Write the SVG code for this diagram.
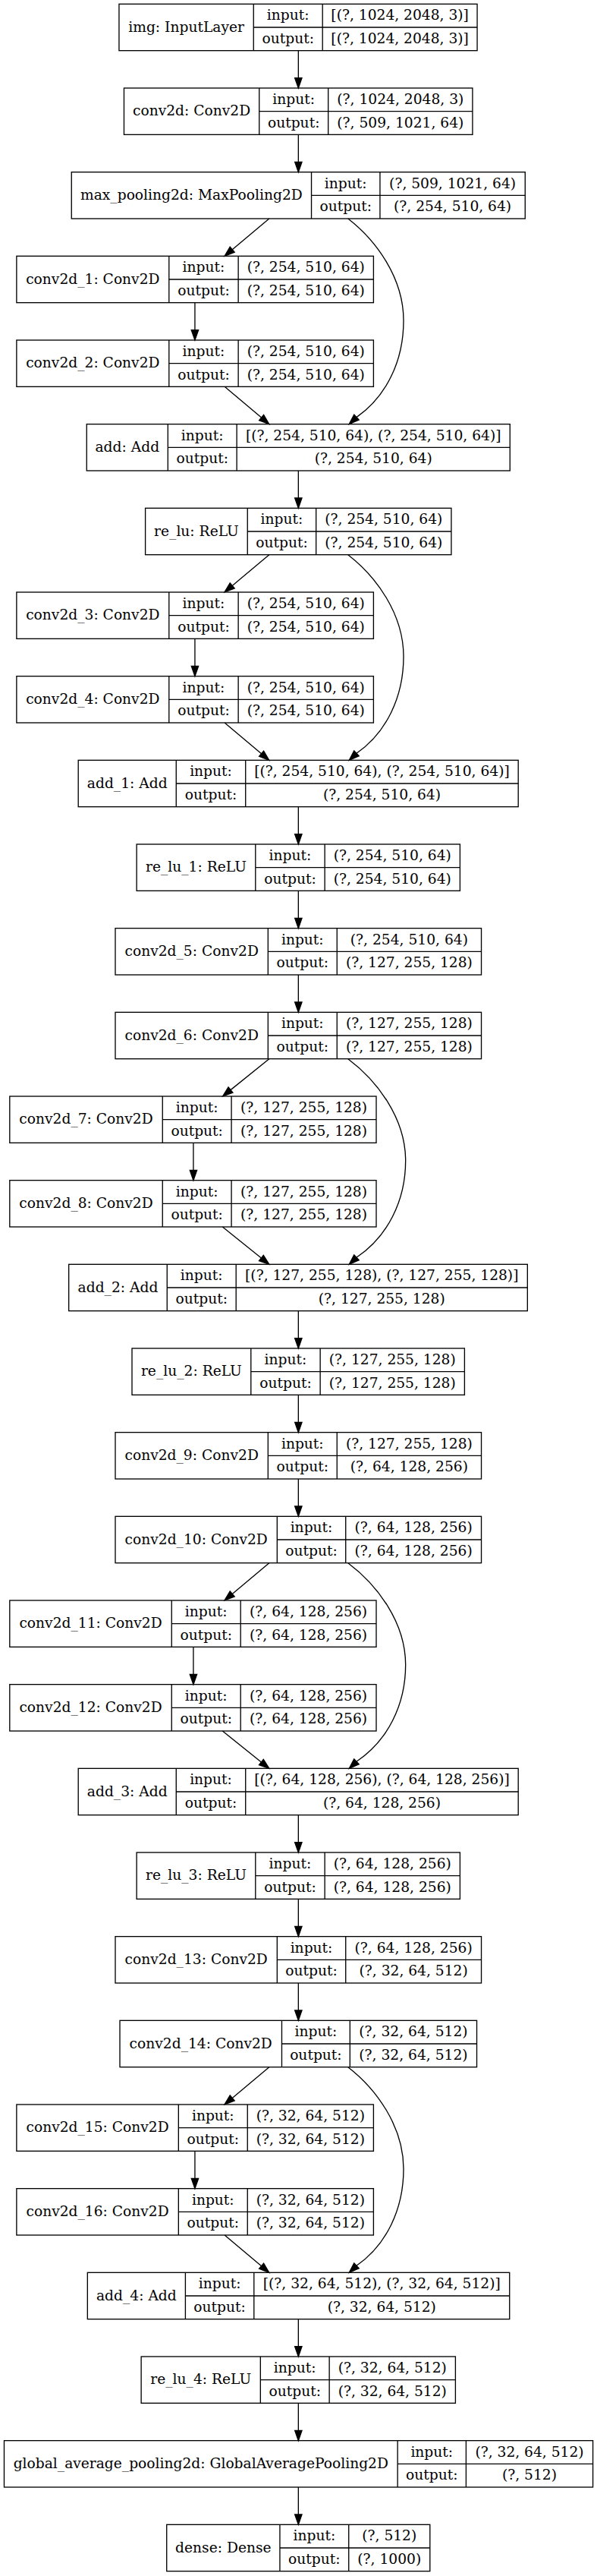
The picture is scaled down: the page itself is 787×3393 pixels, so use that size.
<svg xmlns="http://www.w3.org/2000/svg" width="787" height="3393" viewBox="0 0 787 3393">
<style>
.n rect{fill:#fff;stroke:#000;stroke-width:1}
.n path{fill:none;stroke:#000;stroke-width:1}
text{font-family:"DejaVu Serif","Liberation Serif",serif;font-size:14px;text-anchor:middle;fill:#000}
.e path{fill:none;stroke:#000;stroke-width:1}
.e polygon{fill:#000;stroke:#000;stroke-width:1}
</style>
<rect width="787" height="3393" fill="#fff"/>
<g transform="scale(1.33333)">
<g id="img" class="n"><rect x="117.7" y="4" width="354.1" height="46"/><path d="M250.7 4V50M318.9 4V50M250.7 27H471.8"/><text x="184.2" y="31.2">img: InputLayer</text><text x="284.8" y="19.7">input:</text><text x="284.8" y="42.7">output:</text><text x="395.35" y="19.7">[(?, 1024, 2048, 3)]</text><text x="395.35" y="42.7">[(?, 1024, 2048, 3)]</text></g>
<g id="conv2d" class="n"><rect x="122.6" y="87" width="344.6" height="46"/><path d="M256.3 87V133M324.5 87V133M256.3 110H467.2"/><text x="189.45" y="114.2">conv2d: Conv2D</text><text x="290.4" y="102.7">input:</text><text x="290.4" y="125.7">output:</text><text x="395.85" y="102.7">(?, 1024, 2048, 3)</text><text x="395.85" y="125.7">(?, 509, 1021, 64)</text></g>
<g id="max_pooling2d" class="n"><rect x="70.7" y="170" width="448.5" height="46"/><path d="M307.9 170V216M375.7 170V216M307.9 193H519.2"/><text x="189.3" y="197.2">max_pooling2d: MaxPooling2D</text><text x="341.8" y="185.7">input:</text><text x="341.8" y="208.7">output:</text><text x="447.45" y="185.7">(?, 509, 1021, 64)</text><text x="447.45" y="208.7">(?, 254, 510, 64)</text></g>
<g id="conv2d_1" class="n"><rect x="16.4" y="253" width="352.9" height="46"/><path d="M167.1 253V299M235.6 253V299M167.1 276H369.3"/><text x="91.75" y="280.2">conv2d_1: Conv2D</text><text x="201.35" y="268.7">input:</text><text x="201.35" y="291.7">output:</text><text x="302.45" y="268.7">(?, 254, 510, 64)</text><text x="302.45" y="291.7">(?, 254, 510, 64)</text></g>
<g id="conv2d_2" class="n"><rect x="16.4" y="336" width="352.9" height="46"/><path d="M167.1 336V382M235.6 336V382M167.1 359H369.3"/><text x="91.75" y="363.2">conv2d_2: Conv2D</text><text x="201.35" y="351.7">input:</text><text x="201.35" y="374.7">output:</text><text x="302.45" y="351.7">(?, 254, 510, 64)</text><text x="302.45" y="374.7">(?, 254, 510, 64)</text></g>
<g id="add" class="n"><rect x="85.7" y="419" width="418.5" height="46"/><path d="M166 419V465M234.1 419V465M166 442H504.2"/><text x="125.85" y="446.2">add: Add</text><text x="200.05" y="434.7">input:</text><text x="200.05" y="457.7">output:</text><text x="369.15" y="434.7">[(?, 254, 510, 64), (?, 254, 510, 64)]</text><text x="369.15" y="457.7">(?, 254, 510, 64)</text></g>
<g id="re_lu" class="n"><rect x="143.7" y="502" width="302.5" height="46"/><path d="M244.7 502V548M312.5 502V548M244.7 525H446.2"/><text x="194.2" y="529.2">re_lu: ReLU</text><text x="278.6" y="517.7">input:</text><text x="278.6" y="540.7">output:</text><text x="379.35" y="517.7">(?, 254, 510, 64)</text><text x="379.35" y="540.7">(?, 254, 510, 64)</text></g>
<g id="conv2d_3" class="n"><rect x="16.4" y="585" width="352.9" height="46"/><path d="M167.1 585V631M235.6 585V631M167.1 608H369.3"/><text x="91.75" y="612.2">conv2d_3: Conv2D</text><text x="201.35" y="600.7">input:</text><text x="201.35" y="623.7">output:</text><text x="302.45" y="600.7">(?, 254, 510, 64)</text><text x="302.45" y="623.7">(?, 254, 510, 64)</text></g>
<g id="conv2d_4" class="n"><rect x="16.4" y="668" width="352.9" height="46"/><path d="M167.1 668V714M235.6 668V714M167.1 691H369.3"/><text x="91.75" y="695.2">conv2d_4: Conv2D</text><text x="201.35" y="683.7">input:</text><text x="201.35" y="706.7">output:</text><text x="302.45" y="683.7">(?, 254, 510, 64)</text><text x="302.45" y="706.7">(?, 254, 510, 64)</text></g>
<g id="add_1" class="n"><rect x="77.4" y="751" width="435" height="46"/><path d="M174.2 751V797M242.8 751V797M174.2 774H512.4"/><text x="125.8" y="778.2">add_1: Add</text><text x="208.5" y="766.7">input:</text><text x="208.5" y="789.7">output:</text><text x="377.6" y="766.7">[(?, 254, 510, 64), (?, 254, 510, 64)]</text><text x="377.6" y="789.7">(?, 254, 510, 64)</text></g>
<g id="re_lu_1" class="n"><rect x="135.1" y="834" width="319.7" height="46"/><path d="M252.6 834V880M321.1 834V880M252.6 857H454.8"/><text x="193.85" y="861.2">re_lu_1: ReLU</text><text x="286.85" y="849.7">input:</text><text x="286.85" y="872.7">output:</text><text x="387.95" y="849.7">(?, 254, 510, 64)</text><text x="387.95" y="872.7">(?, 254, 510, 64)</text></g>
<g id="conv2d_5" class="n"><rect x="114" y="917" width="361.9" height="46"/><path d="M265 917V963M333.2 917V963M265 940H475.9"/><text x="189.5" y="944.2">conv2d_5: Conv2D</text><text x="299.1" y="932.7">input:</text><text x="299.1" y="955.7">output:</text><text x="404.55" y="932.7">(?, 254, 510, 64)</text><text x="404.55" y="955.7">(?, 127, 255, 128)</text></g>
<g id="conv2d_6" class="n"><rect x="114" y="1000" width="361.9" height="46"/><path d="M265 1000V1046M333.2 1000V1046M265 1023H475.9"/><text x="189.5" y="1027.2">conv2d_6: Conv2D</text><text x="299.1" y="1015.7">input:</text><text x="299.1" y="1038.7">output:</text><text x="404.55" y="1015.7">(?, 127, 255, 128)</text><text x="404.55" y="1038.7">(?, 127, 255, 128)</text></g>
<g id="conv2d_7" class="n"><rect x="9.6" y="1083" width="362.4" height="46"/><path d="M160.7 1083V1129M228.8 1083V1129M160.7 1106H372"/><text x="85.15" y="1110.2">conv2d_7: Conv2D</text><text x="194.75" y="1098.7">input:</text><text x="194.75" y="1121.7">output:</text><text x="300.4" y="1098.7">(?, 127, 255, 128)</text><text x="300.4" y="1121.7">(?, 127, 255, 128)</text></g>
<g id="conv2d_8" class="n"><rect x="9.6" y="1166" width="362.4" height="46"/><path d="M160.7 1166V1212M228.8 1166V1212M160.7 1189H372"/><text x="85.15" y="1193.2">conv2d_8: Conv2D</text><text x="194.75" y="1181.7">input:</text><text x="194.75" y="1204.7">output:</text><text x="300.4" y="1181.7">(?, 127, 255, 128)</text><text x="300.4" y="1204.7">(?, 127, 255, 128)</text></g>
<g id="add_2" class="n"><rect x="68" y="1249" width="453.5" height="46"/><path d="M165.2 1249V1295M233.4 1249V1295M165.2 1272H521.5"/><text x="116.6" y="1276.2">add_2: Add</text><text x="199.3" y="1264.7">input:</text><text x="199.3" y="1287.7">output:</text><text x="377.45" y="1264.7">[(?, 127, 255, 128), (?, 127, 255, 128)]</text><text x="377.45" y="1287.7">(?, 127, 255, 128)</text></g>
<g id="re_lu_2" class="n"><rect x="130.5" y="1332" width="328.8" height="46"/><path d="M248.1 1332V1378M316.6 1332V1378M248.1 1355H459.3"/><text x="189.3" y="1359.2">re_lu_2: ReLU</text><text x="282.35" y="1347.7">input:</text><text x="282.35" y="1370.7">output:</text><text x="387.95" y="1347.7">(?, 127, 255, 128)</text><text x="387.95" y="1370.7">(?, 127, 255, 128)</text></g>
<g id="conv2d_9" class="n"><rect x="114" y="1415" width="361.9" height="46"/><path d="M265 1415V1461M333.2 1415V1461M265 1438H475.9"/><text x="189.5" y="1442.2">conv2d_9: Conv2D</text><text x="299.1" y="1430.7">input:</text><text x="299.1" y="1453.7">output:</text><text x="404.55" y="1430.7">(?, 127, 255, 128)</text><text x="404.55" y="1453.7">(?, 64, 128, 256)</text></g>
<g id="conv2d_10" class="n"><rect x="114" y="1498" width="361.9" height="46"/><path d="M274 1498V1544M341.8 1498V1544M274 1521H475.9"/><text x="194" y="1525.2">conv2d_10: Conv2D</text><text x="307.9" y="1513.7">input:</text><text x="307.9" y="1536.7">output:</text><text x="408.85" y="1513.7">(?, 64, 128, 256)</text><text x="408.85" y="1536.7">(?, 64, 128, 256)</text></g>
<g id="conv2d_11" class="n"><rect x="9.6" y="1581" width="362.4" height="46"/><path d="M169.7 1581V1627M237.9 1581V1627M169.7 1604H372"/><text x="89.65" y="1608.2">conv2d_11: Conv2D</text><text x="203.8" y="1596.7">input:</text><text x="203.8" y="1619.7">output:</text><text x="304.95" y="1596.7">(?, 64, 128, 256)</text><text x="304.95" y="1619.7">(?, 64, 128, 256)</text></g>
<g id="conv2d_12" class="n"><rect x="9.6" y="1664" width="362.4" height="46"/><path d="M169.7 1664V1710M237.9 1664V1710M169.7 1687H372"/><text x="89.65" y="1691.2">conv2d_12: Conv2D</text><text x="203.8" y="1679.7">input:</text><text x="203.8" y="1702.7">output:</text><text x="304.95" y="1679.7">(?, 64, 128, 256)</text><text x="304.95" y="1702.7">(?, 64, 128, 256)</text></g>
<g id="add_3" class="n"><rect x="77.4" y="1747" width="435" height="46"/><path d="M174.2 1747V1793M242.8 1747V1793M174.2 1770H512.4"/><text x="125.8" y="1774.2">add_3: Add</text><text x="208.5" y="1762.7">input:</text><text x="208.5" y="1785.7">output:</text><text x="377.6" y="1762.7">[(?, 64, 128, 256), (?, 64, 128, 256)]</text><text x="377.6" y="1785.7">(?, 64, 128, 256)</text></g>
<g id="re_lu_3" class="n"><rect x="135.1" y="1830" width="319.7" height="46"/><path d="M252.6 1830V1876M321.1 1830V1876M252.6 1853H454.8"/><text x="193.85" y="1857.2">re_lu_3: ReLU</text><text x="286.85" y="1845.7">input:</text><text x="286.85" y="1868.7">output:</text><text x="387.95" y="1845.7">(?, 64, 128, 256)</text><text x="387.95" y="1868.7">(?, 64, 128, 256)</text></g>
<g id="conv2d_13" class="n"><rect x="114" y="1913" width="361.9" height="46"/><path d="M274 1913V1959M341.8 1913V1959M274 1936H475.9"/><text x="194" y="1940.2">conv2d_13: Conv2D</text><text x="307.9" y="1928.7">input:</text><text x="307.9" y="1951.7">output:</text><text x="408.85" y="1928.7">(?, 64, 128, 256)</text><text x="408.85" y="1951.7">(?, 32, 64, 512)</text></g>
<g id="conv2d_14" class="n"><rect x="118.5" y="1996" width="352.9" height="46"/><path d="M278.6 1996V2042M346 1996V2042M278.6 2019H471.4"/><text x="198.55" y="2023.2">conv2d_14: Conv2D</text><text x="312.3" y="2011.7">input:</text><text x="312.3" y="2034.7">output:</text><text x="408.7" y="2011.7">(?, 32, 64, 512)</text><text x="408.7" y="2034.7">(?, 32, 64, 512)</text></g>
<g id="conv2d_15" class="n"><rect x="16.4" y="2079" width="352.9" height="46"/><path d="M176.5 2079V2125M244.7 2079V2125M176.5 2102H369.3"/><text x="96.45" y="2106.2">conv2d_15: Conv2D</text><text x="210.6" y="2094.7">input:</text><text x="210.6" y="2117.7">output:</text><text x="307" y="2094.7">(?, 32, 64, 512)</text><text x="307" y="2117.7">(?, 32, 64, 512)</text></g>
<g id="conv2d_16" class="n"><rect x="16.4" y="2162" width="352.9" height="46"/><path d="M176.5 2162V2208M244.7 2162V2208M176.5 2185H369.3"/><text x="96.45" y="2189.2">conv2d_16: Conv2D</text><text x="210.6" y="2177.7">input:</text><text x="210.6" y="2200.7">output:</text><text x="307" y="2177.7">(?, 32, 64, 512)</text><text x="307" y="2200.7">(?, 32, 64, 512)</text></g>
<g id="add_4" class="n"><rect x="86.5" y="2245" width="417.3" height="46"/><path d="M183.3 2245V2291M251.1 2245V2291M183.3 2268H503.8"/><text x="134.9" y="2272.2">add_4: Add</text><text x="217.2" y="2260.7">input:</text><text x="217.2" y="2283.7">output:</text><text x="377.45" y="2260.7">[(?, 32, 64, 512), (?, 32, 64, 512)]</text><text x="377.45" y="2283.7">(?, 32, 64, 512)</text></g>
<g id="re_lu_4" class="n"><rect x="139.6" y="2328" width="310.7" height="46"/><path d="M257.5 2328V2374M325.6 2328V2374M257.5 2351H450.3"/><text x="198.55" y="2355.2">re_lu_4: ReLU</text><text x="291.55" y="2343.7">input:</text><text x="291.55" y="2366.7">output:</text><text x="387.95" y="2343.7">(?, 32, 64, 512)</text><text x="387.95" y="2366.7">(?, 32, 64, 512)</text></g>
<g id="global_average_pooling2d" class="n"><rect x="4.1" y="2411" width="582.1" height="46"/><path d="M393.1 2411V2457M460.8 2411V2457M393.1 2434H586.2"/><text x="198.6" y="2438.2">global_average_pooling2d: GlobalAveragePooling2D</text><text x="426.95" y="2426.7">input:</text><text x="426.95" y="2449.7">output:</text><text x="523.5" y="2426.7">(?, 32, 64, 512)</text><text x="523.5" y="2449.7">(?, 512)</text></g>
<g id="dense" class="n"><rect x="164.8" y="2494" width="260.3" height="46"/><path d="M276.7 2494V2540M344.8 2494V2540M276.7 2517H425.1"/><text x="220.75" y="2521.2">dense: Dense</text><text x="310.75" y="2509.7">input:</text><text x="310.75" y="2532.7">output:</text><text x="384.95" y="2509.7">(?, 512)</text><text x="384.95" y="2532.7">(?, 1000)</text></g>

<g id="edges" class="e">
<path d="M295 50V77M295 133V160M295 465V492M295 797V824M295 880V907M295 963V990M295 1295V1322M295 1378V1405M295 1461V1488M295 1793V1820M295 1876V1903M295 1959V1986M295 2291V2318M295 2374V2401M295 2457V2484"/>
<polygon points="291.5,77 295,87 298.5,77"/><polygon points="291.5,160 295,170 298.5,160"/><polygon points="291.5,492 295,502 298.5,492"/><polygon points="291.5,824 295,834 298.5,824"/><polygon points="291.5,907 295,917 298.5,907"/><polygon points="291.5,990 295,1000 298.5,990"/><polygon points="291.5,1322 295,1332 298.5,1322"/><polygon points="291.5,1405 295,1415 298.5,1405"/><polygon points="291.5,1488 295,1498 298.5,1488"/><polygon points="291.5,1820 295,1830 298.5,1820"/><polygon points="291.5,1903 295,1913 298.5,1903"/><polygon points="291.5,1986 295,1996 298.5,1986"/><polygon points="291.5,2318 295,2328 298.5,2318"/><polygon points="291.5,2401 295,2411 298.5,2401"/><polygon points="291.5,2484 295,2494 298.5,2484"/>
<path d="M192.7 299V326M192.7 631V658M191.2 1129V1156M191.2 1627V1654M192.7 2125V2152"/>
<polygon points="189.2,326 192.7,336 196.2,326"/><polygon points="189.2,658 192.7,668 196.2,658"/><polygon points="187.7,1156 191.2,1166 194.7,1156"/><polygon points="187.7,1654 191.2,1664 194.7,1654"/><polygon points="189.2,2152 192.7,2162 196.2,2152"/>
<path d="M266.1 216L229.66 246.57M222.1 382L258.45 412.56M344.1 216C372 237.6 399 274.6 399 316.6C399 356.6 382 391.6 352.5 412.2"/>
<polygon points="222,253 231.91,249.25 227.41,243.89"/><polygon points="266.1,419 256.2,415.24 260.7,409.88"/><polygon points="345.2,419 354.9,414.76 350.1,409.64"/>
<path d="M266.1 548L229.66 578.57M222.1 714L258.45 744.56M344.1 548C372 569.6 399 606.6 399 648.6C399 688.6 382 723.6 352.5 744.2"/>
<polygon points="222,585 231.91,581.25 227.41,575.89"/><polygon points="266.1,751 256.2,747.24 260.7,741.88"/><polygon points="345.2,751 354.9,746.76 350.1,741.64"/>
<path d="M266.1 1046L227.99 1076.72M220 1212L258.3 1242.74M344.1 1046C373 1067.6 401 1104.6 401 1146.6C401 1186.6 383 1221.6 352.5 1242.2"/>
<polygon points="220.2,1083 230.18,1079.45 225.79,1074"/><polygon points="266.1,1249 256.11,1245.47 260.49,1240.01"/><polygon points="345.2,1249 354.9,1244.76 350.1,1239.64"/>
<path d="M266.1 1544L229.66 1574.57M220 1710L258.3 1740.74M344.1 1544C373 1565.6 401 1602.6 401 1644.6C401 1684.6 383 1719.6 352.5 1740.2"/>
<polygon points="222,1581 231.91,1577.25 227.41,1571.89"/><polygon points="266.1,1747 256.11,1743.47 260.49,1738.01"/><polygon points="345.2,1747 354.9,1742.76 350.1,1737.64"/>
<path d="M266.1 2042L229.66 2072.57M222.1 2208L258.45 2238.56M344.1 2042C372 2063.6 399 2100.6 399 2142.6C399 2182.6 382 2217.6 352.5 2238.2"/>
<polygon points="222,2079 231.91,2075.25 227.41,2069.89"/><polygon points="266.1,2245 256.2,2241.24 260.7,2235.88"/><polygon points="345.2,2245 354.9,2240.76 350.1,2235.64"/>
</g>
</g>
</svg>
